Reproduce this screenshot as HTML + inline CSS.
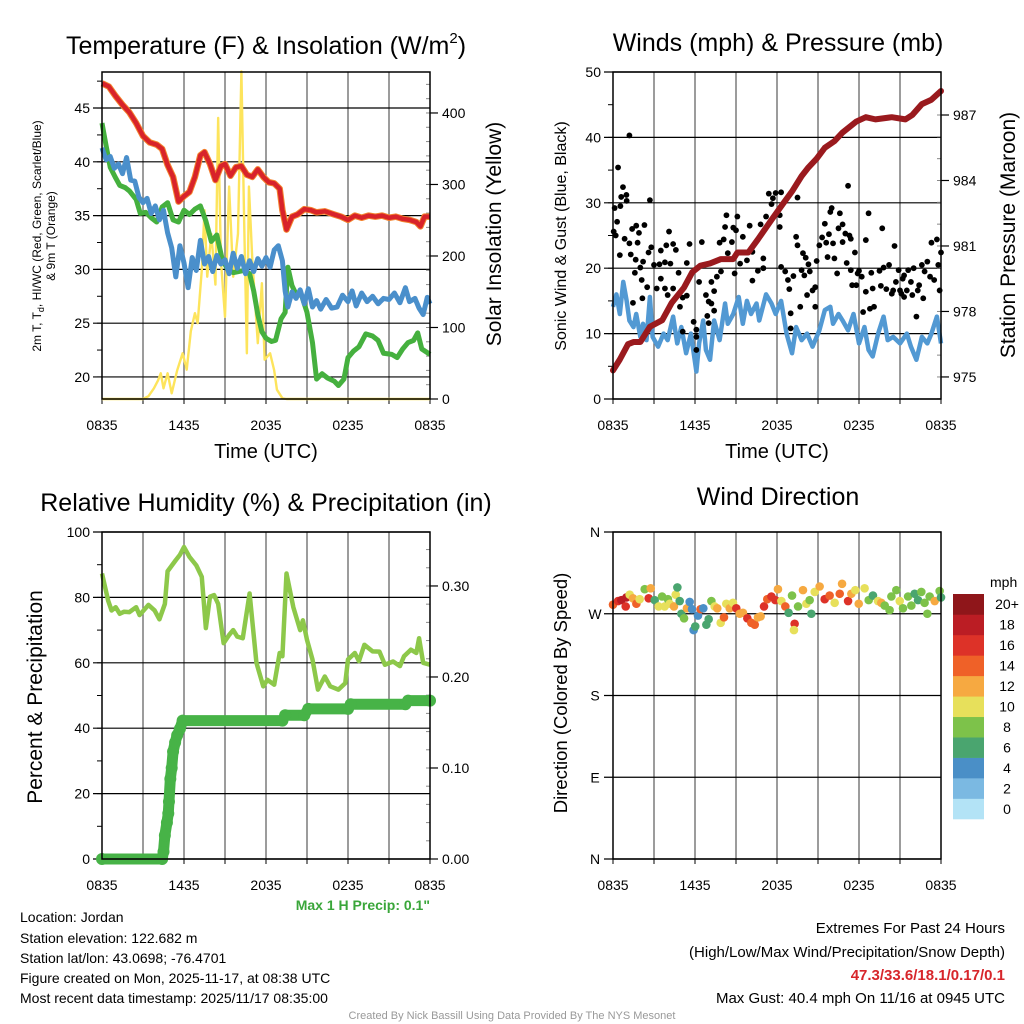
<!DOCTYPE html>
<html><head><meta charset="utf-8"><style>
html,body{margin:0;padding:0;background:#fff;}
svg{display:block;font-family:"Liberation Sans",Arial,sans-serif;}
</style></head><body>
<svg id="chart" width="1024" height="1024" viewBox="0 0 1024 1024" xmlns="http://www.w3.org/2000/svg">
<rect x="0" y="0" width="1024" height="1024" fill="#fff"/>
<g id="layer"></g>
<text x="266" y="54" font-size="25" text-anchor="middle">Temperature (F) &amp; Insolation (W/m<tspan font-size="15" dy="-11">2</tspan><tspan dy="11">)</tspan></text>
<text x="778" y="51" font-size="25" text-anchor="middle">Winds (mph) &amp; Pressure (mb)</text>
<text x="266" y="511" font-size="25" text-anchor="middle">Relative Humidity (%) &amp; Precipitation (in)</text>
<text x="778" y="505" font-size="25" text-anchor="middle">Wind Direction</text>
<text x="266" y="458" font-size="20" text-anchor="middle">Time (UTC)</text>
<text x="777" y="458" font-size="20" text-anchor="middle">Time (UTC)</text>
<text transform="translate(41,236) rotate(-90)" font-size="12" text-anchor="middle">2m T, T<tspan font-size="9" dy="3">d</tspan><tspan dy="-3">, HI/WC (Red, Green, Scarlet/Blue)</tspan></text>
<text transform="translate(55,236) rotate(-90)" font-size="12" text-anchor="middle">&amp; 9m T (Orange)</text>
<text transform="translate(501,234) rotate(-90)" font-size="21" text-anchor="middle">Solar Insolation (Yellow)</text>
<text transform="translate(566,236) rotate(-90)" font-size="16" text-anchor="middle">Sonic Wind &amp; Gust (Blue, Black)</text>
<text transform="translate(1015,235) rotate(-90)" font-size="21" text-anchor="middle">Station Pressure (Maroon)</text>
<text transform="translate(42,697) rotate(-90)" font-size="21" text-anchor="middle">Percent &amp; Precipitation</text>
<text transform="translate(567,693) rotate(-90)" font-size="18.5" text-anchor="middle">Direction (Colored By Speed)</text>
<text x="430" y="910" font-size="14" font-weight="bold" fill="#3aa63a" text-anchor="end">Max 1 H Precip: 0.1"</text>
<g font-size="14">
<text x="20" y="922">Location: Jordan</text>
<text x="20" y="943">Station elevation: 122.682 m</text>
<text x="20" y="963">Station lat/lon: 43.0698; -76.4701</text>
<text x="20" y="983">Figure created on Mon, 2025-11-17, at 08:38 UTC</text>
<text x="20" y="1003">Most recent data timestamp: 2025/11/17 08:35:00</text>
</g>
<g font-size="15" text-anchor="end">
<text x="1005" y="933">Extremes For Past 24 Hours</text>
<text x="1005" y="957">(High/Low/Max Wind/Precipitation/Snow Depth)</text>
<text x="1005" y="980" font-weight="bold" fill="#d7262b">47.3/33.6/18.1/0.17/0.1</text>
<text x="1005" y="1003">Max Gust: 40.4 mph On 11/16 at 0945 UTC</text>
</g>
<text x="512" y="1019" font-size="11" fill="#999" text-anchor="middle">Created By Nick Bassill Using Data Provided By The NYS Mesonet</text>
</svg>
<script>
// ---------- data ----------
const xTickLabels = ['0835','1435','2035','0235','0835'];
const tempTicks = [20,25,30,35,40,45];
const solarTicks = [0,100,200,300,400];
const windTicks = [0,10,20,30,40,50];
const pressTicks = [975,978,981,984,987];
const rhTicks = [0,20,40,60,80,100];
const precipTicks = [0.00,0.10,0.20,0.30];
const dirTickLabels = ['N','E','S','W','N'];
const dirTickValues = [0,90,180,270,360];
const speedBinLabels = ['0','2','4','6','8','10','12','14','16','18','20+'];
const speedBinColors = ['#b3e3f6','#7bb9e2','#4a8fc7','#4aa56f','#7dc24a','#e7e05b','#f6a941','#ef6128','#dd3228','#bb1d24','#8f161a'];

const airTemp = [[0,47.3],[0.5,47],[1,46.1],[1.5,45.3],[2,44.6],[2.5,43.6],[3,42.4],[3.5,41.8],[4,41.6],[4.4,41.2],[4.8,39.7],[5.2,38.6],[5.6,36.3],[6,36.8],[6.4,37.2],[6.8,38.6],[7.2,40.6],[7.5,40.9],[7.9,39.8],[8.3,38.3],[8.7,39.6],[9,39.8],[9.4,38.7],[9.8,39.5],[10.2,39.6],[10.6,38.8],[11,38.6],[11.4,39.3],[11.8,38.6],[12.2,38.1],[12.6,38],[13,37.5],[13.2,35.5],[13.5,33.7],[13.9,34.9],[14.3,35.1],[14.8,35.6],[15.3,35.5],[15.7,35.3],[16.3,35.4],[17,35.1],[17.5,34.9],[18,34.6],[18.5,35],[19,34.8],[19.5,35],[20,34.9],[20.5,35],[21,34.8],[21.5,34.9],[22,34.7],[22.5,34.6],[23,34.4],[23.3,34],[23.6,34.9],[24,34.9]];
const dewTemp = [[0,43.6],[0.3,41.5],[0.6,39.5],[1,38.5],[1.3,37.8],[1.7,37.6],[2,37.3],[2.5,36.5],[2.8,35.2],[3.2,35.3],[3.6,34.8],[4,34.4],[4.4,35.8],[4.8,36.2],[5.2,34.6],[5.6,34.4],[6,35.5],[6.4,35.1],[6.8,35.6],[7.2,35.9],[7.6,34.5],[8,32.6],[8.4,33.2],[8.8,30.9],[9.2,30],[9.6,29.7],[10,29.8],[10.4,29.9],[10.8,29.6],[11.1,28],[11.4,25.8],[11.7,24.2],[12,23.6],[12.4,23.3],[12.7,23.4],[13.1,25.4],[13.4,26],[13.6,30.2],[13.9,28.5],[14.2,27.7],[14.6,27.6],[15,26],[15.4,23.2],[15.7,19.8],[16.1,20.3],[16.5,19.9],[17,19.6],[17.3,19.2],[17.7,19.8],[18,21.8],[18.4,22.4],[18.8,22.8],[19.3,24],[19.8,23.8],[20.2,23.4],[20.6,22.2],[21.2,22.1],[21.6,21.8],[22,22.6],[22.4,23.2],[22.8,23.4],[23.1,24.1],[23.4,22.6],[24,22.1]];
const heatIndex = [[0,41.3],[0.3,40.2],[0.6,40.5],[0.9,39.4],[1.2,39.8],[1.5,38.9],[1.8,40.4],[2.1,38.3],[2.4,38.2],[2.7,36.7],[3,36.2],[3.3,36.6],[3.6,35.2],[3.9,35.9],[4.2,34.6],[4.5,35.5],[4.8,33.4],[5.1,32],[5.4,29.3],[5.7,32.2],[6,30.6],[6.3,28.3],[6.6,31.1],[6.9,29.9],[7.2,32.7],[7.5,30.5],[7.8,31.2],[8.1,29.8],[8.4,31.3],[8.7,30.5],[9,30.9],[9.3,29.6],[9.6,31.5],[9.9,30.1],[10.2,31.2],[10.5,29.6],[10.8,30.8],[11.1,29.8],[11.4,31],[11.7,30.3],[12,31.1],[12.3,30.2],[12.6,31.8],[12.9,32.2],[13.2,30.8],[13.4,28],[13.6,26.5],[13.9,27.9],[14.2,27.3],[14.5,28.1],[14.8,26.8],[15.1,28.2],[15.4,26.5],[15.7,27.1],[16,26.3],[16.4,27.2],[16.8,26.4],[17.2,26.5],[17.6,27.6],[18,27],[18.3,28],[18.6,26.6],[19,27.8],[19.4,27],[19.8,27.5],[20.2,26.8],[20.6,27.3],[21,27.2],[21.4,27.8],[21.8,26.9],[22.2,28.3],[22.5,27],[22.9,27.3],[23.2,26.4],[23.5,25.8],[23.8,27.4],[24,26.8]];
const solar = [[0,0],[3,0],[3.4,4],[3.8,15],[4.1,26],[4.3,36],[4.5,15],[4.8,36],[5.1,8],[5.5,40],[5.9,64],[6.2,41],[6.5,95],[6.8,120],[7,106],[7.3,180],[7.5,264],[7.7,171],[8,231],[8.3,160],[8.5,393],[8.7,194],[9,115],[9.3,297],[9.6,171],[9.95,231],[10.2,458],[10.4,250],[10.6,64],[10.75,297],[11,194],[11.4,78],[11.7,162],[11.9,55],[12.3,64],[12.6,40],[12.8,13],[13.2,1],[13.5,0],[24,0]];
const sonicWind = [[0,14.1],[0.25,16],[0.5,13],[0.75,17.9],[1,15],[1.2,12],[1.5,11],[1.7,13],[2,9.5],[2.2,11.5],[2.45,9],[2.7,15.6],[2.9,9.5],[3.3,8],[3.7,10],[4,9],[4.4,12.6],[4.7,8.5],[5,11],[5.35,7],[5.7,10],[6.1,4.2],[6.3,8.5],[6.6,12],[6.8,7.5],[7.1,6],[7.4,12],[7.8,9],[8.2,14.6],[8.4,11.5],[8.8,13],[9.2,15.6],[9.5,11.5],[9.8,15],[10.1,13],[10.5,14.6],[10.7,12],[11.2,16],[11.6,14.6],[11.9,13],[12.3,15],[12.7,10],[13.1,7],[13.4,11],[13.8,9],[14.2,10],[14.6,8],[15.1,10.5],[15.5,13.6],[15.9,14.1],[16.1,11.5],[16.5,13],[16.8,12],[17.2,10.5],[17.6,13],[18,8.5],[18.4,11],[18.7,7.5],[19,6.5],[19.4,10],[19.8,12.6],[20.1,9],[20.5,9.5],[21,8.5],[21.5,10],[21.8,8],[22.2,6],[22.6,9.5],[23,8.5],[23.3,10],[23.7,12.6],[24,8.5]];
const gusts = [[1.2,40.3],[0.37,35.4],[0.73,32.4],[0.6,30.9],[0.98,31.2],[1.0,30.3],[0.54,29.5],[0.12,29.2],[0.3,27.1],[0.05,25.6],[0.2,25],[0.5,22],[0.85,24.5],[1.2,23.8],[1.4,26],[1.7,26.5],[1.9,25.4],[2.3,26.6],[2.7,30.4],[1.8,23.9],[1.3,22.1],[1.66,21.3],[1.6,19.3],[2.0,20.1],[2.2,21],[2.6,22.4],[2.8,23.2],[3.0,20.5],[3.4,20.6],[3.5,22.7],[3.9,23.5],[4.1,25.6],[4.4,23.7],[4.6,22.8],[3.8,20.9],[4.2,20.7],[4.8,19.3],[2.1,18.2],[2.5,17.1],[3.2,16.9],[3.5,18.4],[3.8,16.9],[4.0,15.9],[4.4,16.9],[2.15,15.4],[1.46,14.7],[4.9,14.1],[5.1,15.5],[5.4,15.8],[5.6,23.7],[5.4,20.8],[5.1,10.3],[5.9,11.8],[6.1,10.6],[6.1,9.5],[6.1,7.5],[6.3,17.9],[6.5,24],[6.8,15.9],[7.0,14.9],[7.2,14.6],[7.4,13.5],[6.9,12.7],[7.0,11.6],[7.4,16.5],[7.2,17.9],[7.6,18.7],[7.9,19.5],[7.8,23.9],[8.1,24.4],[8.2,26.3],[8.3,28.1],[8.4,22.3],[8.7,24],[8.8,26.2],[9.1,27.9],[9.0,25.8],[8.9,19.2],[9.3,20.7],[9.5,24.8],[9.8,21.2],[10,26.5],[10.2,22.5],[10.2,18.1],[10.6,19.6],[10.8,26.7],[11.0,21.5],[11.0,20],[11.2,27.9],[11.4,31.4],[11.6,29.8],[11.7,30.7],[11.9,31.5],[12.3,31.6],[12.2,28.1],[12.2,26.3],[12.3,20.2],[12.6,19.5],[12.8,18.2],[12.9,16.8],[13.0,13.1],[13.0,10.8],[13.4,24.8],[13.5,23.5],[13.5,30.8],[13.2,18.8],[13.7,14.1],[13.8,19.7],[13.9,22.3],[14.0,18.9],[14.1,21.6],[14.2,15.9],[14.3,20.6],[14.4,19.5],[14.6,16.6],[14.8,14.1],[14.8,17.1],[14.9,21.1],[15.1,23.5],[15.3,24.7],[15.5,26.8],[15.6,23.9],[15.7,21.7],[15.9,28.6],[16.0,29.2],[16.1,23.8],[16.2,21.5],[16.4,19.2],[15.8,25.2],[16.5,26.1],[16.6,28.4],[16.8,26.7],[16.8,24],[17.0,25.3],[17.1,20.8],[17.2,32.6],[17.3,25],[17.4,24.5],[17.4,19.7],[17.5,17.4],[17.7,22.4],[17.8,17.4],[17.9,19.2],[18.0,19.6],[18.2,18.7],[18.3,13.3],[18.5,24.3],[18.5,16.4],[18.7,28.4],[18.8,13.8],[18.9,19.3],[19.0,16.9],[19.1,14.1],[19.5,19.6],[19.6,17.3],[19.7,26.1],[19.8,20.1],[20.0,16.8],[20.2,20.5],[20.4,16.1],[20.5,16.6],[20.6,23.4],[20.7,17.9],[20.9,19.7],[21.0,16.6],[21.1,16.1],[21.2,18.4],[21.3,18.9],[21.3,15.6],[21.5,16.6],[21.6,19.7],[21.8,17.9],[21.9,15.9],[22.0,20],[22.2,12.6],[22.3,16.6],[22.4,17.4],[22.6,20.5],[22.7,15.4],[22.8,19.5],[23.0,21],[23.2,18.7],[23.3,23.9],[23.5,18.2],[23.7,24.4],[23.8,20.5],[23.9,16.6],[24.0,22.4]];
const pressure = [[0,975.3],[0.5,975.8],[1.1,976.5],[1.5,976.6],[2,976.6],[2.7,977.3],[3.6,977.6],[4.3,978.4],[5.2,979.1],[5.8,979.8],[6.4,980.1],[7.1,980.2],[7.9,980.4],[8.8,980.4],[9.1,980.7],[9.9,980.7],[10.6,981.3],[11.6,982.2],[12.4,982.9],[13.1,983.5],[13.8,984.2],[14.3,984.6],[14.9,985],[15.5,985.5],[16.2,985.8],[16.8,986.2],[17.8,986.7],[18.5,986.9],[19.2,986.8],[20.4,986.9],[21.4,986.8],[21.9,987],[22.6,987.5],[23.3,987.7],[24,988.1]];
const relHum = [[0,87.3],[0.45,79],[0.7,76],[1,77],[1.3,75],[1.6,75.6],[2,75.5],[2.5,77],[2.75,74.6],[3.4,77.7],[3.85,76],[4.2,73.3],[4.6,78],[4.8,88],[5.4,91.4],[5.7,93],[6,95.4],[6.4,92.4],[6.9,89.8],[7.3,86.3],[7.6,70.6],[7.9,80.2],[8.2,80.7],[8.5,78],[8.9,66],[9.3,68.5],[9.6,70],[9.9,68],[10.3,67.5],[10.8,81.2],[11.3,60],[11.8,52.8],[12.1,54.8],[12.6,53.3],[13,63],[13.2,62],[13.5,87.3],[14,77],[14.5,70],[14.7,73],[15,67],[15.4,61],[15.8,51.8],[16.3,55.8],[16.7,52.8],[17.3,51.8],[17.8,53.8],[18,61],[18.5,63],[18.8,60.5],[19.2,65.5],[19.8,63.5],[20.3,63.4],[20.7,59.4],[21.3,60.4],[21.8,59],[22.1,62],[22.6,64],[23,63],[23.2,67.5],[23.5,60],[24,59.4]];
const precip = [[0,0],[4.4,0],[4.5,0.008],[4.6,0.026],[4.75,0.04],[4.85,0.05],[4.9,0.063],[5.0,0.088],[5.1,0.10],[5.2,0.118],[5.35,0.128],[5.5,0.136],[5.7,0.143],[5.9,0.152],[13.2,0.152],[13.4,0.158],[14.8,0.158],[15.1,0.165],[18.0,0.165],[18.2,0.17],[22.2,0.17],[22.4,0.174],[24,0.174]];
const dirObs = [[0,280,14],[0.37,284,17],[0.61,285,19],[0.98,288,18],[0.93,278,17],[1.22,291,10],[1.46,287,13],[1.71,281,14],[1.95,286,10],[2.32,297,8],[2.61,287,17],[2.76,298,12],[3.05,285,7],[3.34,278,11],[3.59,289,9],[3.78,278,10],[4.02,286,9],[4.15,281,10],[4.46,278,12],[4.59,291,10],[4.71,299,7],[4.88,284,6],[5.0,270,7],[5.2,265,8],[5.41,276,12],[5.61,283,5],[5.78,275,4],[5.9,252,4],[6.02,256,7],[6.22,268,4],[6.41,275,15],[6.61,276,5],[6.83,258,6],[7.0,264,6],[7.2,284,8],[7.44,278,10],[7.63,276,12],[7.88,260,11],[8.12,266,14],[8.29,281,10],[8.54,276,12],[8.78,282,11],[9.02,276,17],[9.27,270,12],[9.51,271,13],[9.83,265,17],[10.12,260,14],[10.37,258,15],[10.61,266,13],[10.8,267,12],[11.05,278,17],[11.29,286,15],[11.59,289,16],[11.88,285,17],[12.07,297,12],[12.32,284,10],[12.61,278,15],[12.85,271,6],[13.1,290,8],[13.29,259,16],[13.24,252,10],[13.54,278,9],[13.9,296,12],[14.15,281,10],[14.39,285,8],[14.51,270,7],[14.76,294,10],[15.12,300,12],[15.49,286,16],[15.85,290,15],[16.22,282,10],[16.59,292,15],[16.76,303,12],[17.2,284,16],[17.44,292,12],[17.73,296,10],[17.98,281,12],[18.41,298,10],[18.71,285,8],[19.02,290,6],[19.39,284,10],[19.63,282,12],[19.88,279,8],[20.24,274,9],[20.37,289,8],[20.73,296,8],[20.98,284,10],[21.22,276,8],[21.59,289,9],[21.83,279,8],[22.07,292,6],[22.32,285,7],[22.56,294,8],[22.8,282,9],[23.0,270,8],[23.17,289,8],[23.54,284,12],[23.9,295,8],[24.0,288,7]];

// ---------- geometry & scales ----------
const NS = 'http://www.w3.org/2000/svg';
const layer = document.getElementById('layer');
const PW = 328, PH = 327;
const P1 = {x:102, y:72}, P2 = {x:613, y:72}, P3 = {x:102, y:532}, P4 = {x:613, y:532};
function lin(d0, d1, r0, r1){ return v => r0 + (v - d0) / (d1 - d0) * (r1 - r0); }
function xScale(P){ return lin(0, 24, P.x, P.x + PW); }
function yScale(P, lo, hi){ return lin(lo, hi, P.y + PH, P.y); }
function mk(tag, attrs){ const e = document.createElementNS(NS, tag); for (const k in attrs) e.setAttribute(k, attrs[k]); layer.appendChild(e); return e; }
function pathFrom(arr, sx, sy){ return arr.map((p,i)=>(i?'L':'M') + sx(p[0]).toFixed(2) + ',' + sy(p[1]).toFixed(2)).join(''); }

function frame(P, key){
  const sx = xScale(P);
  for (let h = 3; h < 24; h += 3){
    const g = mk('line', {x1:sx(h), x2:sx(h), y1:P.y, y2:P.y+PH, stroke:'#666', 'stroke-width':1.3});
    
    
  }
  for (let h = 0; h <= 24; h += 3){
    const t = mk('line', {x1:sx(h), x2:sx(h), y1:P.y+PH, y2:P.y+PH+5, stroke:'#000', 'stroke-width':1});
    
    
  }
  xTickLabels.forEach((lab, i) => {
    const t = mk('text', {x:sx(i*6), y:P.y+PH+31, 'font-size':14, 'text-anchor':'middle'});
    t.textContent = lab;
    
    
  });
}
function border(P, key){
  const b = mk('rect', {x:P.x, y:P.y, width:PW, height:PH, fill:'none', stroke:'#000', 'stroke-width':1.5});
  
  
}
function leftAxis(P, key, ticks, lo, hi, fmt, minorStep){
  const sy = yScale(P, lo, hi);
  ticks.forEach(v => {
    const y = sy(v);
    const g = mk('line', {x1:P.x-9, x2:P.x+PW, y1:y, y2:y, stroke:'#000', 'stroke-width':1.2});
    
    
    const t = mk('text', {x:P.x-12, y:y+5, 'font-size':14, 'text-anchor':'end'});
    t.textContent = fmt(v);
    
    
  });
  if (minorStep){
    for (let v = Math.ceil(lo/minorStep)*minorStep; v <= hi; v += minorStep){
      const m = mk('line', {x1:P.x-5, x2:P.x, y1:sy(v), y2:sy(v), stroke:'#000', 'stroke-width':1});
      
      
    }
  }
}
function rightAxis(P, key, ticks, lo, hi, fmt, minorStep){
  const sy = yScale(P, lo, hi);
  ticks.forEach(v => {
    const y = sy(v);
    const g = mk('line', {x1:P.x+PW, x2:P.x+PW+8, y1:y, y2:y, stroke:'#000', 'stroke-width':1.2});
    
    
    const t = mk('text', {x:P.x+PW+12, y:y+5, 'font-size':14, 'text-anchor':'start'});
    t.textContent = fmt(v);
    
    
  });
  if (minorStep){
    for (let v = Math.ceil(lo/minorStep)*minorStep; v <= hi; v += minorStep){
      const m = mk('line', {x1:P.x+PW-4, x2:P.x+PW, y1:sy(v), y2:sy(v), stroke:'#888', 'stroke-width':1});
      
      
    }
  }
}

// ---------- Panel 1: temperature ----------
const T_LO = 17.95, T_HI = 48.35, S_LO = 0, S_HI = 457.3;
frame(P1, 'temp');
leftAxis(P1, 'temp', tempTicks, T_LO, T_HI, v => String(v), 2.5);
rightAxis(P1, 'solar', solarTicks, S_LO, S_HI, v => String(v), 20);
{
  const sx = xScale(P1), syT = yScale(P1, T_LO, T_HI), syS = yScale(P1, S_LO, S_HI);
  let e;
  e = mk('path', {d:pathFrom(solar, sx, syS), fill:'none', stroke:'#fde45c', 'stroke-width':2.4, 'stroke-linejoin':'round'});
  
  
  e = mk('path', {d:pathFrom(dewTemp, sx, syT), fill:'none', stroke:'#45b03e', 'stroke-width':5, 'stroke-linejoin':'round'});
  
  
  e = mk('path', {d:pathFrom(heatIndex, sx, syT), fill:'none', stroke:'#4a8fcb', 'stroke-width':5, 'stroke-linejoin':'round'});
  
  
  e = mk('path', {d:pathFrom(airTemp, sx, syT), fill:'none', stroke:'#f3832f', 'stroke-width':6.5, 'stroke-linejoin':'round'});
  
  
  e = mk('path', {d:pathFrom(airTemp, sx, syT), fill:'none', stroke:'#d8232a', 'stroke-width':4.5, 'stroke-linejoin':'round'});
  
  
}
border(P1, 'temp');

// ---------- Panel 2: winds ----------
const W_LO = 0, W_HI = 50, PR_LO = 973.99, PR_HI = 988.97;
frame(P2, 'wind');
leftAxis(P2, 'wind', windTicks, W_LO, W_HI, v => String(v), 5);
rightAxis(P2, 'pressure', pressTicks, PR_LO, PR_HI, v => String(v), 1);
{
  const sx = xScale(P2), syW = yScale(P2, W_LO, W_HI), syP = yScale(P2, PR_LO, PR_HI);
  let e = mk('path', {d:pathFrom(sonicWind, sx, syW), fill:'none', stroke:'#5299d3', 'stroke-width':4.5, 'stroke-linejoin':'round'});
  
  
  gusts.forEach(g => {
    const c = mk('circle', {cx:sx(g[0]), cy:syW(g[1]), r:2.9, fill:'#000'});
    
    
  });
  e = mk('path', {d:pathFrom(pressure, sx, syP), fill:'none', stroke:'#9a1a1e', 'stroke-width':6, 'stroke-linejoin':'round', 'stroke-linecap':'round'});
  
  
}
border(P2, 'wind');

// ---------- Panel 3: humidity ----------
const RH_LO = 0, RH_HI = 100, PC_LO = 0, PC_HI = 0.3593;
frame(P3, 'rh');
leftAxis(P3, 'rh', rhTicks, RH_LO, RH_HI, v => String(v), 10);
rightAxis(P3, 'precip', precipTicks, PC_LO, PC_HI, v => v.toFixed(2), 0.02);
{
  const sx = xScale(P3), syR = yScale(P3, RH_LO, RH_HI), syP = yScale(P3, PC_LO, PC_HI);
  let e = mk('path', {d:pathFrom(relHum, sx, syR), fill:'none', stroke:'#8dc84a', 'stroke-width':4.5, 'stroke-linejoin':'round'});
  
  
  e = mk('path', {d:pathFrom(precip, sx, syP), fill:'none', stroke:'#47b347', 'stroke-width':11, 'stroke-linejoin':'round', 'stroke-linecap':'round'});
  
  
  precip.forEach(p => {
    const c = mk('circle', {cx:sx(p[0]), cy:syP(p[1]), r:6, fill:'#47b347'});
    
    
  });
}
border(P3, 'rh');

// ---------- Panel 4: wind direction ----------
frame(P4, 'dir');
{
  const sy = yScale(P4, 0, 360);
  dirTickValues.forEach((v, i) => {
    const y = sy(v);
    const g = mk('line', {x1:P4.x-9, x2:P4.x+PW, y1:y, y2:y, stroke:'#000', 'stroke-width':1.2});
    
    
    const t = mk('text', {x:P4.x-18, y:y+5, 'font-size':14, 'text-anchor':'middle'});
    t.textContent = dirTickLabels[i];
    
    
  });
  const sx = xScale(P4);
  dirObs.forEach(d => {
    const bin = Math.min(10, Math.floor(d[2] / 2));
    const c = mk('circle', {cx:sx(d[0]), cy:sy(d[1]), r:4.3, fill:speedBinColors[bin]});
    
    
  });
  const cbX = 953, cbW = 31, cbTop = 594, cbH = 225, n = speedBinColors.length, bh = cbH / n;
  for (let i = 0; i < n; i++){
    const y = cbTop + (n - 1 - i) * bh;
    const r = mk('rect', {x:cbX, y:y, width:cbW, height:bh + 0.3, fill:speedBinColors[i]});
    
    
    const t = mk('text', {x:1007, y:y + bh/2 + 5, 'font-size':14, 'text-anchor':'middle'});
    t.textContent = speedBinLabels[i];
    
    
  }
  const u = mk('text', {x:990, y:587, 'font-size':14});
  u.textContent = 'mph';
  
  
}
border(P4, 'dir');
</script>
</body></html>
